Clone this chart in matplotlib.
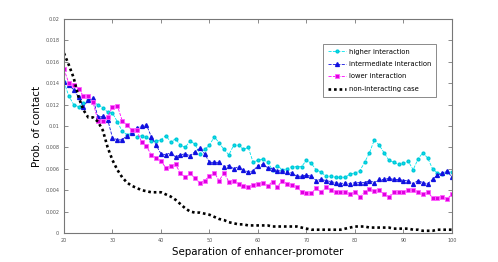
import numpy as np
import matplotlib
matplotlib.use("Agg")
import matplotlib.pyplot as plt

sep = np.arange(20, 101)

higher = [0.0141, 0.0128, 0.0120, 0.0118, 0.0121, 0.0124, 0.0122, 0.0120, 0.0117, 0.0113,
          0.0112, 0.0104, 0.0095, 0.0092, 0.0093, 0.0090, 0.0091, 0.0090, 0.0086, 0.0086,
          0.0087, 0.0091, 0.0085, 0.0088, 0.0082, 0.0080, 0.0086, 0.0083, 0.0074, 0.0078,
          0.0082, 0.0090, 0.0084, 0.0078, 0.0073, 0.0082, 0.0082, 0.0078, 0.0080, 0.0066,
          0.0068, 0.0069, 0.0066, 0.0059, 0.0063, 0.0059, 0.0060, 0.0062, 0.0062, 0.0062,
          0.0068, 0.0065, 0.0059, 0.0057, 0.0053, 0.0053, 0.0052, 0.0052, 0.0052, 0.0055,
          0.0056, 0.0058, 0.0066, 0.0075, 0.0087, 0.0082, 0.0075, 0.0068, 0.0066, 0.0064,
          0.0065, 0.0067, 0.0059, 0.0069, 0.0075, 0.0070, 0.0060, 0.0056, 0.0055, 0.0057,
          0.0057]

intermediate = [0.0141, 0.0138, 0.0134, 0.0127, 0.0118, 0.0124, 0.0126, 0.0108, 0.0109, 0.0106,
                0.0089, 0.0087, 0.0087, 0.0091, 0.0093, 0.0098, 0.0100, 0.0101, 0.0090, 0.0082,
                0.0074, 0.0073, 0.0075, 0.0071, 0.0073, 0.0074, 0.0072, 0.0076, 0.0079, 0.0074,
                0.0066, 0.0066, 0.0066, 0.0062, 0.0063, 0.0060, 0.0062, 0.0059, 0.0057, 0.0058,
                0.0063, 0.0064, 0.0061, 0.0060, 0.0058, 0.0058, 0.0057, 0.0056, 0.0053, 0.0053,
                0.0054, 0.0053, 0.0049, 0.0050, 0.0049, 0.0048, 0.0047, 0.0046, 0.0047, 0.0046,
                0.0047, 0.0047, 0.0047, 0.0049, 0.0047, 0.0050, 0.0050, 0.0051, 0.0050, 0.0050,
                0.0049, 0.0049, 0.0046, 0.0049, 0.0047, 0.0046, 0.0050, 0.0054, 0.0056, 0.0058,
                0.0052]

lower = [0.0153, 0.0140, 0.0138, 0.0135, 0.0128, 0.0128, 0.0122, 0.0105, 0.0105, 0.0108,
         0.0118, 0.0119, 0.0105, 0.0101, 0.0096, 0.0096, 0.0085, 0.0081, 0.0073, 0.0070,
         0.0067, 0.0061, 0.0063, 0.0064, 0.0056, 0.0052, 0.0056, 0.0051, 0.0047, 0.0049,
         0.0053, 0.0056, 0.0049, 0.0056, 0.0048, 0.0049, 0.0046, 0.0044, 0.0043, 0.0045,
         0.0046, 0.0047, 0.0044, 0.0048, 0.0043, 0.0049, 0.0046, 0.0045, 0.0043, 0.0038,
         0.0037, 0.0037, 0.0042, 0.0038, 0.0043, 0.0040, 0.0038, 0.0038, 0.0038, 0.0036,
         0.0038, 0.0034, 0.0038, 0.0041, 0.0039, 0.0040, 0.0036, 0.0034, 0.0038, 0.0038,
         0.0038, 0.0040, 0.0040, 0.0038, 0.0036, 0.0038, 0.0033, 0.0033, 0.0034, 0.0032,
         0.0036]

nonint = [0.0168, 0.0157, 0.0145, 0.0127, 0.0115, 0.0108, 0.0108, 0.0104, 0.0096, 0.0080,
          0.0068, 0.0059, 0.0052, 0.0047, 0.0044, 0.0042, 0.0040, 0.0039, 0.0038, 0.0038,
          0.0038, 0.0036, 0.0034, 0.0031, 0.0027, 0.0023, 0.0020, 0.0019, 0.0019, 0.0018,
          0.0017, 0.0015, 0.0013, 0.0012, 0.0010, 0.0009, 0.0008, 0.0008, 0.0007, 0.0007,
          0.0007, 0.0007, 0.0007, 0.0006, 0.0006, 0.0006, 0.0006, 0.0006, 0.0006, 0.0005,
          0.0004, 0.0003, 0.0003, 0.0003, 0.0003, 0.0003, 0.0003, 0.0003, 0.0004, 0.0005,
          0.0006, 0.0006, 0.0006, 0.0005, 0.0005, 0.0005, 0.0005, 0.0005, 0.0004, 0.0004,
          0.0004, 0.0004, 0.0003, 0.0003, 0.0002, 0.0002, 0.0002, 0.0003, 0.0003, 0.0003,
          0.0003]

labels = ['higher interaction', 'intermediate interaction', 'lower interaction', 'non-interacting case']

fig = plt.figure(figsize=(4.98, 2.62), dpi=100)
ax = fig.add_axes([0.1285, 0.111, 0.779, 0.8165])

ax.plot(sep, higher, '--', color='#00e5ee', lw=0.6, marker='o', ms=2.0, mec='#00c8d8', label=labels[0])
ax.plot(sep, intermediate, '--', color='#1010e0', lw=0.6, marker='^', ms=2.8, mec='#1010e0', label=labels[1])
ax.plot(sep, lower, '--', color='#ff00ff', lw=0.6, marker='s', ms=3.0, mfc='#e000e0', mec='#ff60ff', mew=0.6, label=labels[2])
ax.plot(sep, nonint, color='black', lw=1.9, linestyle=(0, (1, 1.1)), label=labels[3])

ax.set_xlim(20, 100)
ax.set_ylim(0, 0.02)
ax.set_xticks(np.arange(20, 101, 10))
ax.set_yticks(np.arange(0, 0.0201, 0.002))
ax.set_yticklabels(['0', '0.002', '0.004', '0.006', '0.008', '0.01', '0.012', '0.014', '0.016', '0.018', '0.02'])
ax.tick_params(direction='in', top=True, right=True, labelsize=3.5, labelcolor='#555555',
               color='#777777', length=3, width=0.6)
for s in ax.spines.values():
    s.set_color('#777777')
    s.set_linewidth(0.8)

ax.set_xlabel('Separation of enhancer-promoter', fontsize=7.4, labelpad=3)
ax.set_ylabel('Prob. of contact', fontsize=7.4, labelpad=2)

leg = ax.legend(loc='upper left', bbox_to_anchor=(0.66, 0.9), fontsize=4.9, fancybox=False,
                edgecolor='#777777', framealpha=1, handlelength=2.6, handletextpad=0.5,
                borderpad=0.7, labelspacing=0.95)
leg.get_frame().set_linewidth(0.6)

fig.savefig('out.png', dpi=100)
